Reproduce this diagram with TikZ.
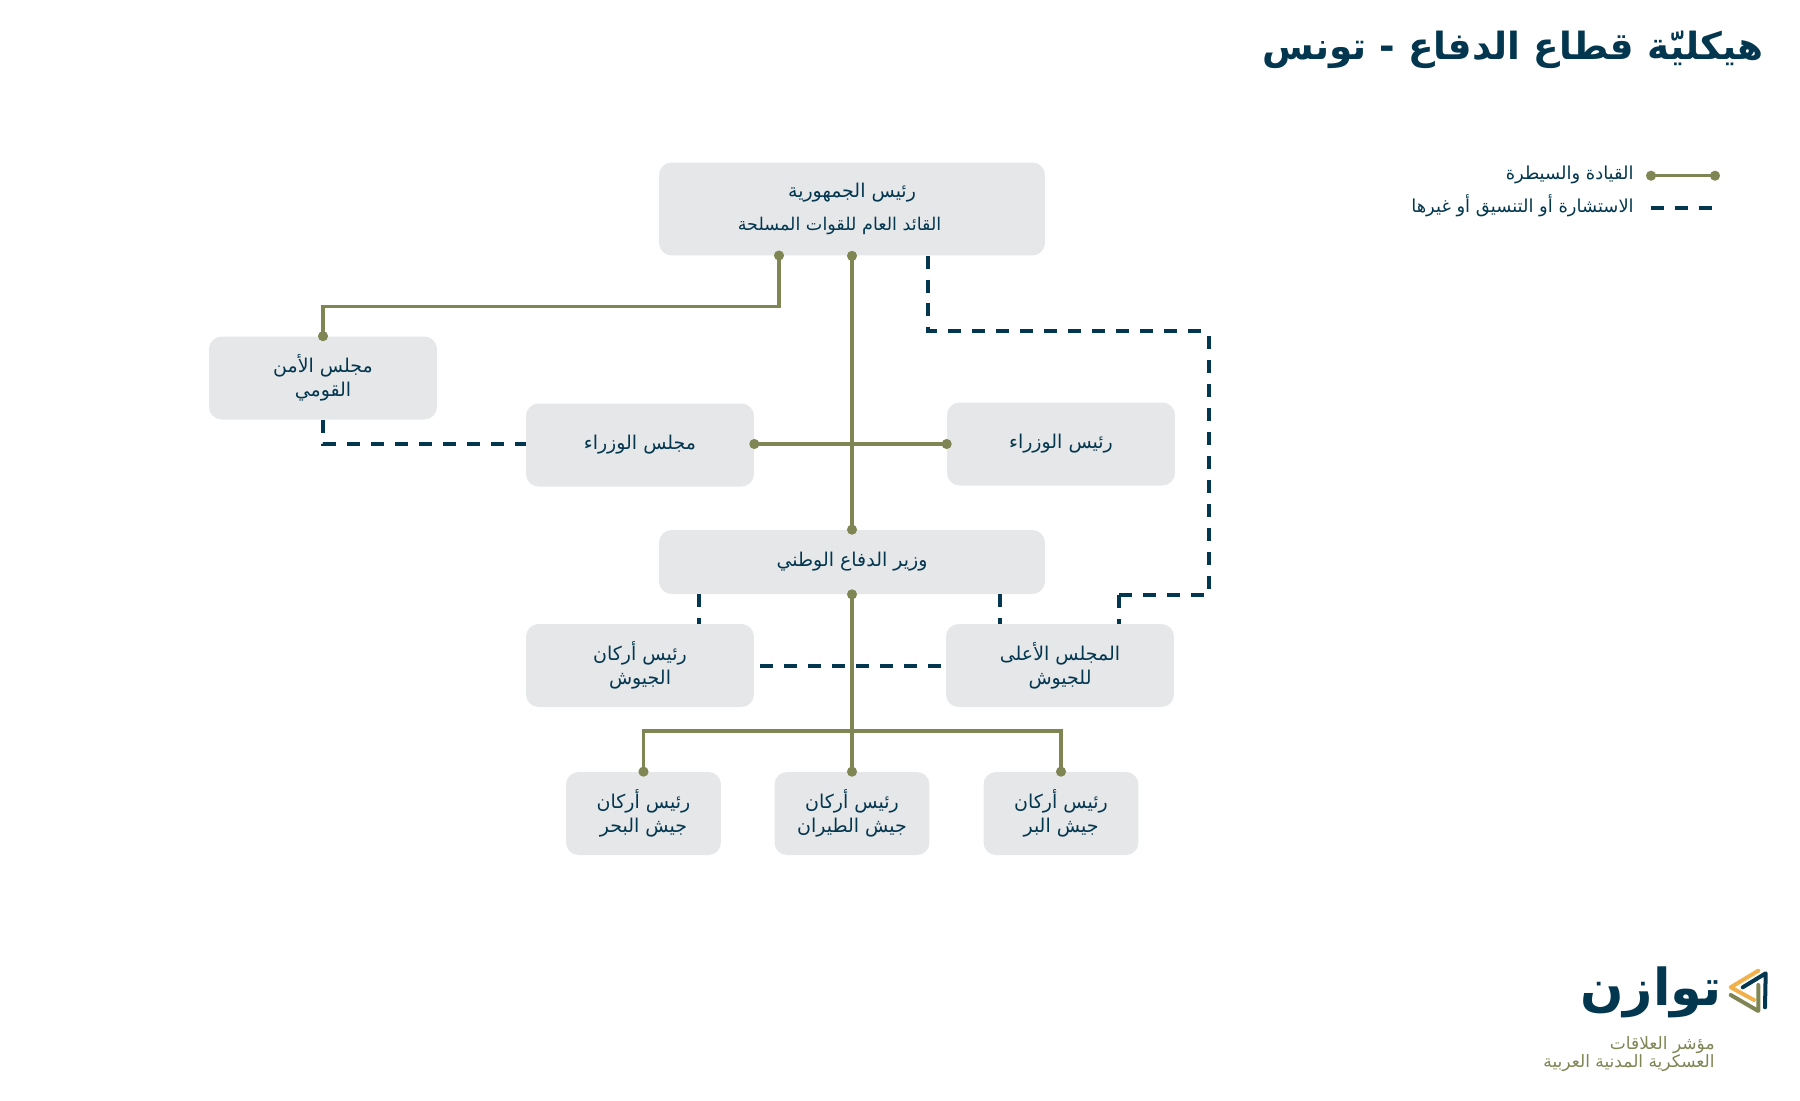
\documentclass[tikz,border=0pt]{standalone}
\usepackage{fontspec}
\usetikzlibrary{arrows.meta}
\newfontfamily\arabicfont[Script=Arabic]{DejaVu Sans}
\TeXXeTstate=1
\newcommand{\arline}[1]{\beginR #1\endR}
\definecolor{navyline}{HTML}{03374F}
\definecolor{oliveline}{HTML}{7F8553}
\definecolor{boxgray}{HTML}{E6E7E9}
\definecolor{logoorange}{HTML}{F2B04A}
\begin{document}
\begin{tikzpicture}[x=0.02cm, y=-0.02cm,
      box/.style={rectangle, rounded corners=0.25cm, fill=boxgray, inner sep=0pt,
                  text=navyline, align=center,
                  font=\arabicfont\fontsize{10.8}{13.6}\selectfont},
      widebox/.style={box, minimum width=7.72cm},
      midbox/.style={box, minimum width=4.56cm, minimum height=1.66cm},
      smallbox/.style={box, minimum width=3.1cm, minimum height=1.66cm},
      command/.style={draw=oliveline, line width=0.07cm, line join=miter,
                  shorten <=-2.8pt, shorten >=-2.8pt,
                  {Circle[length=5.6pt]}-{Circle[length=5.6pt]}},
      branch/.style={draw=oliveline, line width=0.07cm, line join=miter,
                  shorten >=-2.8pt, -{Circle[length=5.6pt]}},
      consult/.style={draw=navyline, line width=0.08cm,
                  dash pattern=on 0.26cm off 0.22cm},
      legendtext/.style={anchor=east, inner sep=0pt, text=navyline,
                  font=\arabicfont\fontsize{10.2}{12}\selectfont},
      logostroke/.style={line width=0.08cm, line cap=round, line join=round},
      sloganline/.style={anchor=east, inner sep=0pt, text=oliveline,
                  font=\arabicfont\fontsize{9.7}{12}\selectfont},
    ]
    \useasboundingbox (0,0) rectangle (1800,1100);

    \node[anchor=east, inner sep=0pt, text=navyline,
          font=\arabicfont\bfseries\fontsize{21.3}{24}\selectfont] (title) at (1764,50)
      {\arline{هيكليّة قطاع الدفاع - تونس}};

    % boxes
    \node[widebox, minimum height=1.86cm] (president) at (852,209)
      {\arline{رئيس الجمهورية}\\[5pt]
       {\fontsize{10}{12}\selectfont\arline{القائد العام للقوات المسلحة}\hspace*{0.5cm}}};
    \node[midbox, minimum height=1.66cm] (security) at (323,378)
      {\arline{مجلس الأمن}\\\arline{القومي}};
    \node[midbox] (cabinet) at (640,445) {\arline{مجلس الوزراء}};
    \node[midbox] (premier) at (1061,444) {\arline{رئيس الوزراء}};
    \node[widebox, minimum height=1.28cm] (defense) at (852,562)
      {\arline{وزير الدفاع الوطني}};
    \node[midbox] (staff) at (640,665.5)
      {\arline{رئيس أركان}\\\arline{الجيوش}};
    \node[midbox] (supreme) at (1060,665.5)
      {\arline{المجلس الأعلى}\\\arline{للجيوش}};
    \node[smallbox] (navy) at (643.5,813.5)
      {\arline{رئيس أركان}\\\arline{جيش البحر}};
    \node[smallbox] (airforce) at (852,813.5)
      {\arline{رئيس أركان}\\\arline{جيش الطيران}};
    \node[smallbox] (army) at (1061,813.5)
      {\arline{رئيس أركان}\\\arline{جيش البر}};

    % free ends and bends
    \coordinate (presleft) at (779,255.5);
    \coordinate (presright) at (928,255.5);
    \coordinate (nscbend) at (779,306.5);
    \coordinate (consultbend) at (1209,331);
    \coordinate (elbow) at (1119,595);
    \coordinate (nscfoot) at (323,444);
    \coordinate (defleft) at (699,594);
    \coordinate (defright) at (1000,594);
    \coordinate (supremetop) at (1119,624);
    \coordinate (busrow) at (852,731);
    \coordinate (cabinetdash) at (526,444);
    \coordinate (staffdash) at (760,666);
    \coordinate (supremedash) at (946,666);

    % consultation
    \draw[consult] (presright) |- (consultbend);
    \draw[consult] (elbow) -| (consultbend);
    \draw[consult] (elbow) -- (supremetop);
    \draw[consult] (security.south) -- (nscfoot) -- (cabinetdash);
    \draw[consult] (defleft) -- (defleft |- staff.north);
    \draw[consult] (defright) -- (defright |- supreme.north);
    \draw[consult] (staffdash) -- (supremedash);

    % command
    \draw[command] (presleft) -- (nscbend) -| (security.north);
    \draw[command] (president.south) -- (defense.north);
    \draw[command] (cabinet.east |- premier.west) -- (premier.west);
    \draw[command] (defense.south) -- (airforce.north);
    \draw[branch] (busrow) -| (navy.north);
    \draw[branch] (busrow) -| (army.north);

    % legend
    \node[legendtext] (legendcommand) at (1634,175) {\arline{القيادة والسيطرة}};
    \node[legendtext] (legendconsult) at (1634,206) {\arline{الاستشارة أو التنسيق أو غيرها}};
    \coordinate (commandstart) at (1651,175.7);
    \coordinate (commandend) at (1715,175.7);
    \coordinate (consultstart) at (1651,207.7);
    \coordinate (consultend) at (1719,207.7);
    \draw[command] (commandstart) -- (commandend);
    \draw[consult] (consultstart) -- (consultend);

    % logo
    \node[anchor=east, inner sep=0pt, text=navyline,
          font=\arabicfont\bfseries\fontsize{29}{34}\selectfont] (logoword) at (1722,992)
      {\arline{توازن}};
    \draw[logostroke, logoorange] (1758.3,970.7) -- (1730.7,987.3) -- (1754,1000);
    \draw[logostroke, navyline] (1742.7,987.3) -- (1765.7,973.3) -- (1765,1007.3);
    \draw[logostroke, oliveline] (1730.7,995) -- (1758.3,1011) -- (1758.3,985);
    \node[sloganline] (sloganone) at (1715,1045) {\arline{مؤشر العلاقات}};
    \node[sloganline] (slogantwo) at (1715,1063) {\arline{العسكرية المدنية العربية}};

  \end{tikzpicture}
\end{document}
